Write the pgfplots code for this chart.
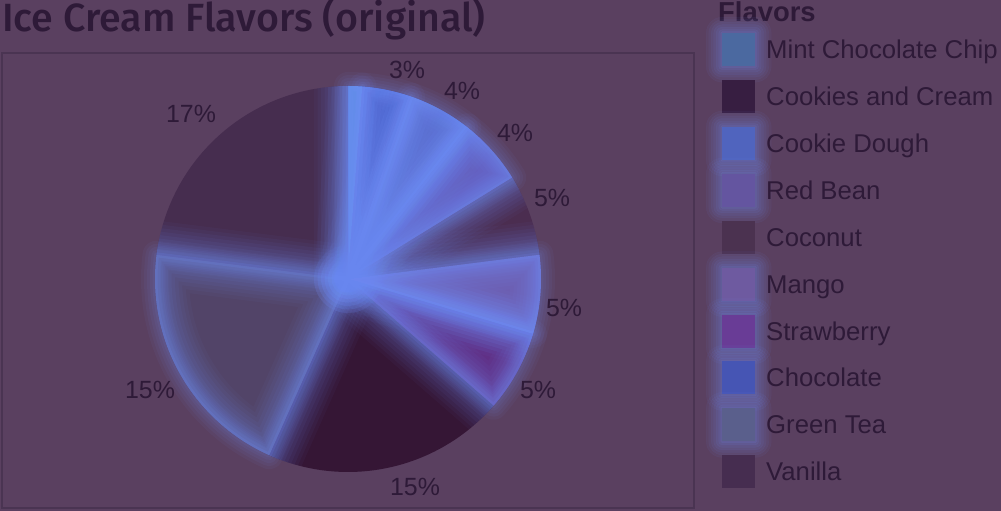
\documentclass[border=0pt]{standalone}
\usepackage{fontspec}
\setmainfont{Liberation Sans}
\newfontfamily\titlefont{Fira Sans}[UprightFont={* Medium}]
\usepackage{pgfplots}
\pgfplotsset{compat=1.18}

\definecolor{bg}{RGB}{90,64,96}
\definecolor{ink}{RGB}{46,26,56}
\definecolor{framec}{RGB}{74,52,82}
\definecolor{glowc}{RGB}{115,145,250}
% pie fills
\definecolor{pMint}{RGB}{75,140,210}
\definecolor{pChoc}{RGB}{65,85,190}
\definecolor{pDough}{RGB}{85,105,200}
\definecolor{pBean}{RGB}{100,90,185}
\definecolor{pCoco}{RGB}{75,45,80}
\definecolor{pMango}{RGB}{108,92,175}
\definecolor{pStraw}{RGB}{96,45,130}
\definecolor{pCC}{RGB}{53,22,53}
\definecolor{pTea}{RGB}{82,68,104}
\definecolor{pVan}{RGB}{70,45,79}
% legend swatches
\definecolor{lMint}{RGB}{75,105,160}
\definecolor{lCC}{RGB}{55,30,65}
\definecolor{lDough}{RGB}{80,100,190}
\definecolor{lBean}{RGB}{100,85,160}
\definecolor{lCoco}{RGB}{75,50,80}
\definecolor{lMango}{RGB}{110,90,160}
\definecolor{lStraw}{RGB}{105,60,150}
\definecolor{lChoc}{RGB}{70,85,180}
\definecolor{lTea}{RGB}{90,95,140}
\definecolor{lVan}{RGB}{70,45,80}

% slice: start angle, end angle (degrees clockwise from 12 o'clock), colour
\newcommand\slice[3]{%
  \addplot[fill=#3, draw=none, forget plot, domain=#1:#2, samples=60, variable=\t]
    ({348+193*sin(\t)},{232+193*cos(\t)}) -- (348,232) -- cycle;}
\newcommand\glowline[4]{%
  \addplot[draw=glowc, line width=#3, opacity=#4, fill=none, line join=round, forget plot,
    domain=#1:#2, samples=60, variable=\t]
    ({348+193*sin(\t)},{232+193*cos(\t)}) -- (348,232) -- cycle;}
\newcommand\innerglow[2]{%
  \glowline{#1}{#2}{68bp}{0.04}%
  \glowline{#1}{#2}{61bp}{0.045}%
  \glowline{#1}{#2}{54bp}{0.05}%
  \glowline{#1}{#2}{47bp}{0.055}%
  \glowline{#1}{#2}{40bp}{0.06}%
  \glowline{#1}{#2}{33bp}{0.065}%
  \glowline{#1}{#2}{26bp}{0.07}%
  \glowline{#1}{#2}{19bp}{0.075}%
  \glowline{#1}{#2}{12bp}{0.08}%
  \glowline{#1}{#2}{5bp}{0.09}}
\newcommand\outerglow[2]{%
  \glowline{#1}{#2}{28bp}{0.05}%
  \glowline{#1}{#2}{22bp}{0.055}%
  \glowline{#1}{#2}{16bp}{0.06}%
  \glowline{#1}{#2}{10bp}{0.065}%
  \glowline{#1}{#2}{5bp}{0.07}}

\newcommand\glowbox[2]{\fill[overlay, glowc, opacity=#2, rounded corners=#1] (-#1,-7.5bp-#1) rectangle (33bp+#1,25.5bp+#1);}
\pgfplotsset{
  sw/.style={legend image code/.code={\fill[##1, draw=none] (0bp,-7.5bp) rectangle (33bp,25.5bp);}},
  swg/.style={legend image code/.code={%
      \glowbox{16bp}{0.05}\glowbox{13.5bp}{0.055}\glowbox{11bp}{0.06}%
      \glowbox{8.5bp}{0.065}\glowbox{6bp}{0.07}\glowbox{3.5bp}{0.08}\glowbox{1.5bp}{0.09}%
      \fill[##1, draw=none] (0bp,-7.5bp) rectangle (33bp,25.5bp);}},
}

\begin{document}
\begin{tikzpicture}[x=1bp,y=1bp]
\useasboundingbox (0,0) rectangle (1001,511);
\fill[bg] (0,0) rectangle (1001,511);
\begin{axis}[
  at={(0,0)}, anchor=south west,
  width=1001bp, height=511bp, scale only axis,
  xmin=0, xmax=1001, ymin=0, ymax=511,
  hide axis, clip=false,
  legend style={at={(axis cs:722,478)}, anchor=north west, draw=none, fill=none,
    font=\fontsize{25.8}{25.8}\selectfont, text=ink, row sep=13.9bp, inner sep=0pt,
    nodes={inner sep=0pt, anchor=base west}, column sep=11bp},
  legend cell align=left,
]
% plot frame
\draw[framec, line width=2bp] (2,458) rectangle (694,3);

% Shares (%) of the slices, clockwise from 12 o'clock:
% Mint 1.2, Chocolate 4.1, Cookie Dough 5.3, Red Bean 5.6, Coconut 6.8,
% Mango 6.6, Strawberry 6.8, Cookies and Cream 20.3, Green Tea 20.3, Vanilla 23.0
\slice{0}{4.32}{pMint}
\slice{4.32}{19.08}{pChoc}
\slice{19.08}{38.16}{pDough}
\slice{38.16}{58.32}{pBean}
\slice{58.32}{82.80}{pCoco}
\slice{82.80}{106.56}{pMango}
\slice{106.56}{131.04}{pStraw}
\slice{131.04}{204.12}{pCC}
\slice{204.12}{277.20}{pTea}
\slice{277.20}{360}{pVan}

% soft outer halo
\outerglow{0}{4.32}
\outerglow{4.32}{19.08}
\outerglow{19.08}{38.16}
\outerglow{38.16}{58.32}
\outerglow{82.80}{106.56}
\outerglow{106.56}{131.04}
\outerglow{204.12}{277.20}
% inner glow, kept inside the pie
\begin{scope}
\clip (348,232) circle[radius=193];
\innerglow{0}{4.32}
\innerglow{4.32}{19.08}
\innerglow{19.08}{38.16}
\innerglow{38.16}{58.32}
\innerglow{82.80}{106.56}
\innerglow{106.56}{131.04}
\innerglow{204.12}{277.20}
\end{scope}

% percentage labels
\begin{scope}[every node/.style={text=ink, font=\fontsize{25}{25}\selectfont, inner sep=0pt}]
\node at (407,441) {3\%};
\node at (462,420) {4\%};
\node at (515,378) {4\%};
\node at (552,313) {5\%};
\node at (564,203) {5\%};
\node at (538,121) {5\%};
\node at (415,24) {15\%};
\node at (150,121) {15\%};
\node at (191,397) {17\%};
\end{scope}

% title and legend title
\node[anchor=base west, inner sep=0pt, text=ink, font=\titlefont\fontsize{39.5}{39.5}\selectfont] at (2,479) {Ice Cream Flavors (original)};
\node[anchor=base west, inner sep=0pt, text=ink, font=\bfseries\fontsize{27.5}{27.5}\selectfont] at (718,489) {Flavors};

\addlegendimage{swg, fill=lMint}\addlegendentry{Mint Chocolate Chip}
\addlegendimage{sw, fill=lCC}\addlegendentry{Cookies and Cream}
\addlegendimage{swg, fill=lDough}\addlegendentry{Cookie Dough}
\addlegendimage{swg, fill=lBean}\addlegendentry{Red Bean}
\addlegendimage{sw, fill=lCoco}\addlegendentry{Coconut}
\addlegendimage{swg, fill=lMango}\addlegendentry{Mango}
\addlegendimage{swg, fill=lStraw}\addlegendentry{Strawberry}
\addlegendimage{swg, fill=lChoc}\addlegendentry{Chocolate}
\addlegendimage{swg, fill=lTea}\addlegendentry{Green Tea}
\addlegendimage{sw, fill=lVan}\addlegendentry{Vanilla}
\end{axis}
\end{tikzpicture}
\end{document}
